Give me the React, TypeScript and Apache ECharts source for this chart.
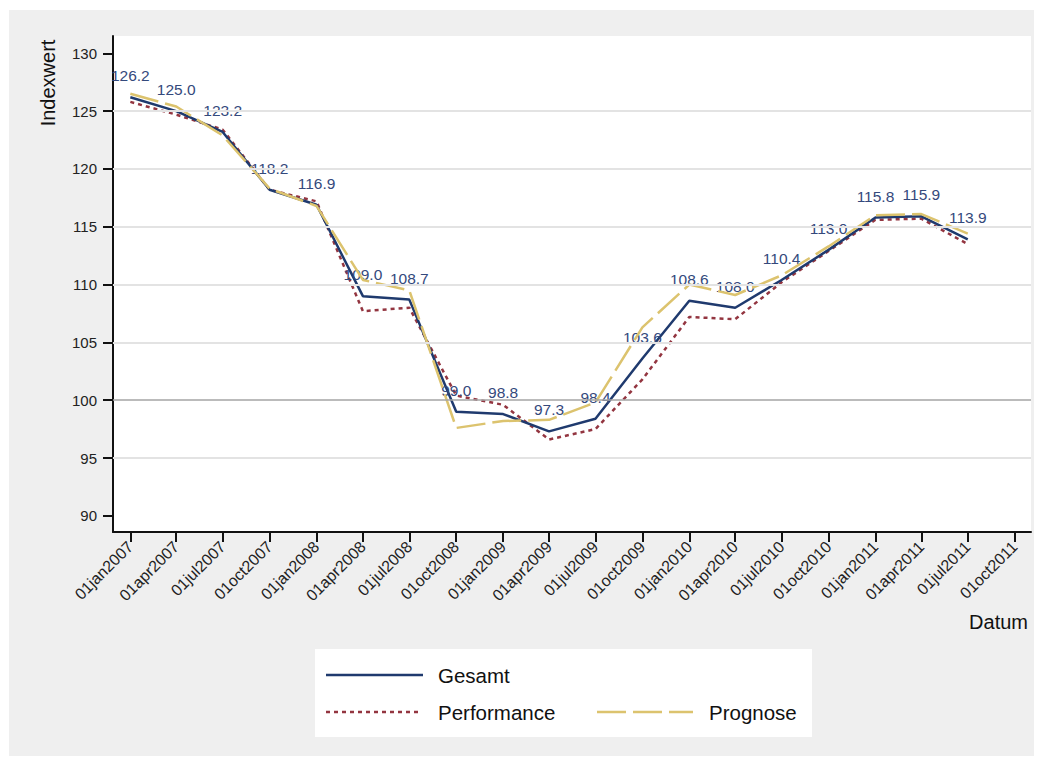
import React, { useEffect, useRef } from "react";
import * as echarts from "echarts";

// ---- data ----
const dates = [
  "2007-01-01", "2007-04-01", "2007-07-01", "2007-10-01",
  "2008-01-01", "2008-04-01", "2008-07-01", "2008-10-01",
  "2009-01-01", "2009-04-01", "2009-07-01", "2009-10-01",
  "2010-01-01", "2010-04-01", "2010-07-01", "2010-10-01",
  "2011-01-01", "2011-04-01", "2011-07-01",
];
const gesamt = [126.2, 125.0, 123.2, 118.2, 116.9, 109.0, 108.7, 99.0, 98.8, 97.3, 98.4, 103.6, 108.6, 108.0, 110.4, 113.0, 115.8, 115.9, 113.9];
const performance = [125.8, 124.7, 123.4, 118.2, 117.2, 107.7, 108.0, 100.4, 99.6, 96.6, 97.5, 101.8, 107.2, 107.0, 110.2, 112.9, 115.6, 115.7, 113.5];
const prognose = [126.5, 125.4, 122.9, 118.3, 116.8, 110.4, 109.5, 97.6, 98.2, 98.3, 99.8, 106.3, 110.0, 109.1, 110.8, 113.3, 116.0, 116.1, 114.4];
const xTickDates = [
  "2007-01-01", "2007-04-01", "2007-07-01", "2007-10-01",
  "2008-01-01", "2008-04-01", "2008-07-01", "2008-10-01",
  "2009-01-01", "2009-04-01", "2009-07-01", "2009-10-01",
  "2010-01-01", "2010-04-01", "2010-07-01", "2010-10-01",
  "2011-01-01", "2011-04-01", "2011-07-01", "2011-10-01",
];
const yTicks = [90, 95, 100, 105, 110, 115, 120, 125, 130];
const yGridLines = [95, 105, 110, 115, 120, 125];
const refLine = 100;
const xMinDate = "2006-11-28";
const xMaxDate = "2011-11-02";
const yMin = 88.6;
const yMax = 131.5;
const seriesNames = ["Gesamt", "Performance", "Prognose"];

const MONTHS = ["jan", "feb", "mar", "apr", "may", "jun", "jul", "aug", "sep", "oct", "nov", "dec"];
const ts = (s: string) => {
  const [y, m, d] = s.split("-").map(Number);
  return Date.UTC(y, m - 1, d);
};
const fmtDate = (v: number) => {
  const d = new Date(v);
  return String(d.getUTCDate()).padStart(2, "0") + MONTHS[d.getUTCMonth()] + d.getUTCFullYear();
};

const FONT = "'Liberation Sans', Arial, Helvetica, sans-serif";
const NAVY = "#1f3a6e";
const MAROON = "#933540";
const SAND = "#dcc36e";
const LABEL = "#34497c";

export default function App() {
  const ref = useRef<HTMLDivElement>(null);
  useEffect(() => {
    if (!ref.current) return;
    const chart = echarts.init(ref.current, undefined, { renderer: "svg" });
    const pts = (vals: number[]) => dates.map((d, i) => [ts(d), vals[i]]);
    chart.setOption({
      animation: false,
      backgroundColor: "transparent",
      textStyle: { fontFamily: FONT },
      grid: {
        left: 113, top: 36, right: 13, bottom: 233,
        show: true, backgroundColor: "#ffffff", borderWidth: 0,
      },
      xAxis: {
        type: "value",
        min: ts(xMinDate),
        max: ts(xMaxDate),
        splitLine: { show: false },
        axisLine: { show: true, onZero: false, lineStyle: { color: "#111", width: 2 } },
        axisTick: { show: true, length: 10, lineStyle: { color: "#111", width: 2 }, customValues: xTickDates.map(ts) },
        axisLabel: {
          customValues: xTickDates.map(ts),
          formatter: (v: number) => fmtDate(v),
          rotate: 45, margin: 12, fontSize: 16, color: "#222", fontFamily: FONT,
        },
      },
      yAxis: {
        type: "value",
        min: yMin,
        max: yMax,
        splitLine: { show: false },
        axisLine: { show: true, onZero: false, lineStyle: { color: "#111", width: 2 } },
        axisTick: { show: true, length: 10, lineStyle: { color: "#111", width: 2 }, customValues: yTicks },
        axisLabel: { customValues: yTicks, margin: 16, fontSize: 15, color: "#222", fontFamily: FONT },
      },
      series: [
        {
          name: "grid",
          type: "line",
          data: [],
          z: 1,
          silent: true,
          markLine: {
            silent: true,
            symbol: ["none", "none"],
            label: { show: false },
            data: [
              ...yGridLines.map((v) => ({ yAxis: v, lineStyle: { color: "#e3e3e3", width: 2, type: "solid" } })),
              { yAxis: refLine, lineStyle: { color: "#a4a4a4", width: 1.6, type: "solid" } },
            ],
          },
        },
        {
          name: seriesNames[0],
          type: "line",
          data: pts(gesamt),
          z: 3,
          symbol: "circle",
          symbolSize: 1,
          itemStyle: { color: "rgba(0,0,0,0)" },
          lineStyle: { color: NAVY, width: 2.5 },
          label: {
            show: true, position: "top", distance: 13,
            formatter: (p: any) => p.value[1].toFixed(1),
            fontSize: 15.5, color: LABEL, fontFamily: FONT,
          },
        },
        {
          name: seriesNames[1],
          type: "line",
          data: pts(performance),
          z: 2,
          showSymbol: false,
          lineStyle: { color: MAROON, width: 2.5, type: [4, 4] },
        },
        {
          name: seriesNames[2],
          type: "line",
          data: pts(prognose),
          z: 4,
          showSymbol: false,
          lineStyle: { color: SAND, width: 2.5, type: [29, 7] },
        },
      ],
      graphic: [
        { type: "text", x: 48, y: 83, rotation: Math.PI / 2, style: { text: "Indexwert", font: `20px ${FONT}`, fill: "#111", align: "center", verticalAlign: "middle" } },
        { type: "text", x: 1028, y: 622, style: { text: "Datum", font: `20px ${FONT}`, fill: "#111", align: "right", verticalAlign: "middle" } },
        { type: "rect", shape: { x: 315, y: 649, width: 497, height: 88 }, style: { fill: "#ffffff" } },
        { type: "line", shape: { x1: 326, y1: 675, x2: 423, y2: 675 }, style: { stroke: NAVY, lineWidth: 2.5 } },
        { type: "text", x: 438, y: 675, style: { text: seriesNames[0], font: `20.5px ${FONT}`, fill: "#111", verticalAlign: "middle" } },
        { type: "line", shape: { x1: 326, y1: 712, x2: 420, y2: 712 }, style: { stroke: MAROON, lineWidth: 2.5, lineDash: [4, 4] } },
        { type: "text", x: 438, y: 712, style: { text: seriesNames[1], font: `20.5px ${FONT}`, fill: "#111", verticalAlign: "middle" } },
        { type: "line", shape: { x1: 597, y1: 712, x2: 693, y2: 712 }, style: { stroke: SAND, lineWidth: 2.5, lineDash: [29, 7] } },
        { type: "text", x: 709, y: 712, style: { text: seriesNames[2], font: `20.5px ${FONT}`, fill: "#111", verticalAlign: "middle" } },
      ],
    });
    return () => chart.dispose();
  }, []);

  return (
    <div style={{ position: "fixed", left: 0, top: 0, width: 1044, height: 765, background: "#ffffff" }}>
      <div style={{ position: "absolute", left: 9, top: 10, width: 1025, height: 746, background: "#efefef" }} />
      <div ref={ref} style={{ position: "absolute", left: 0, top: 0, width: 1044, height: 765 }} />
    </div>
  );
}
